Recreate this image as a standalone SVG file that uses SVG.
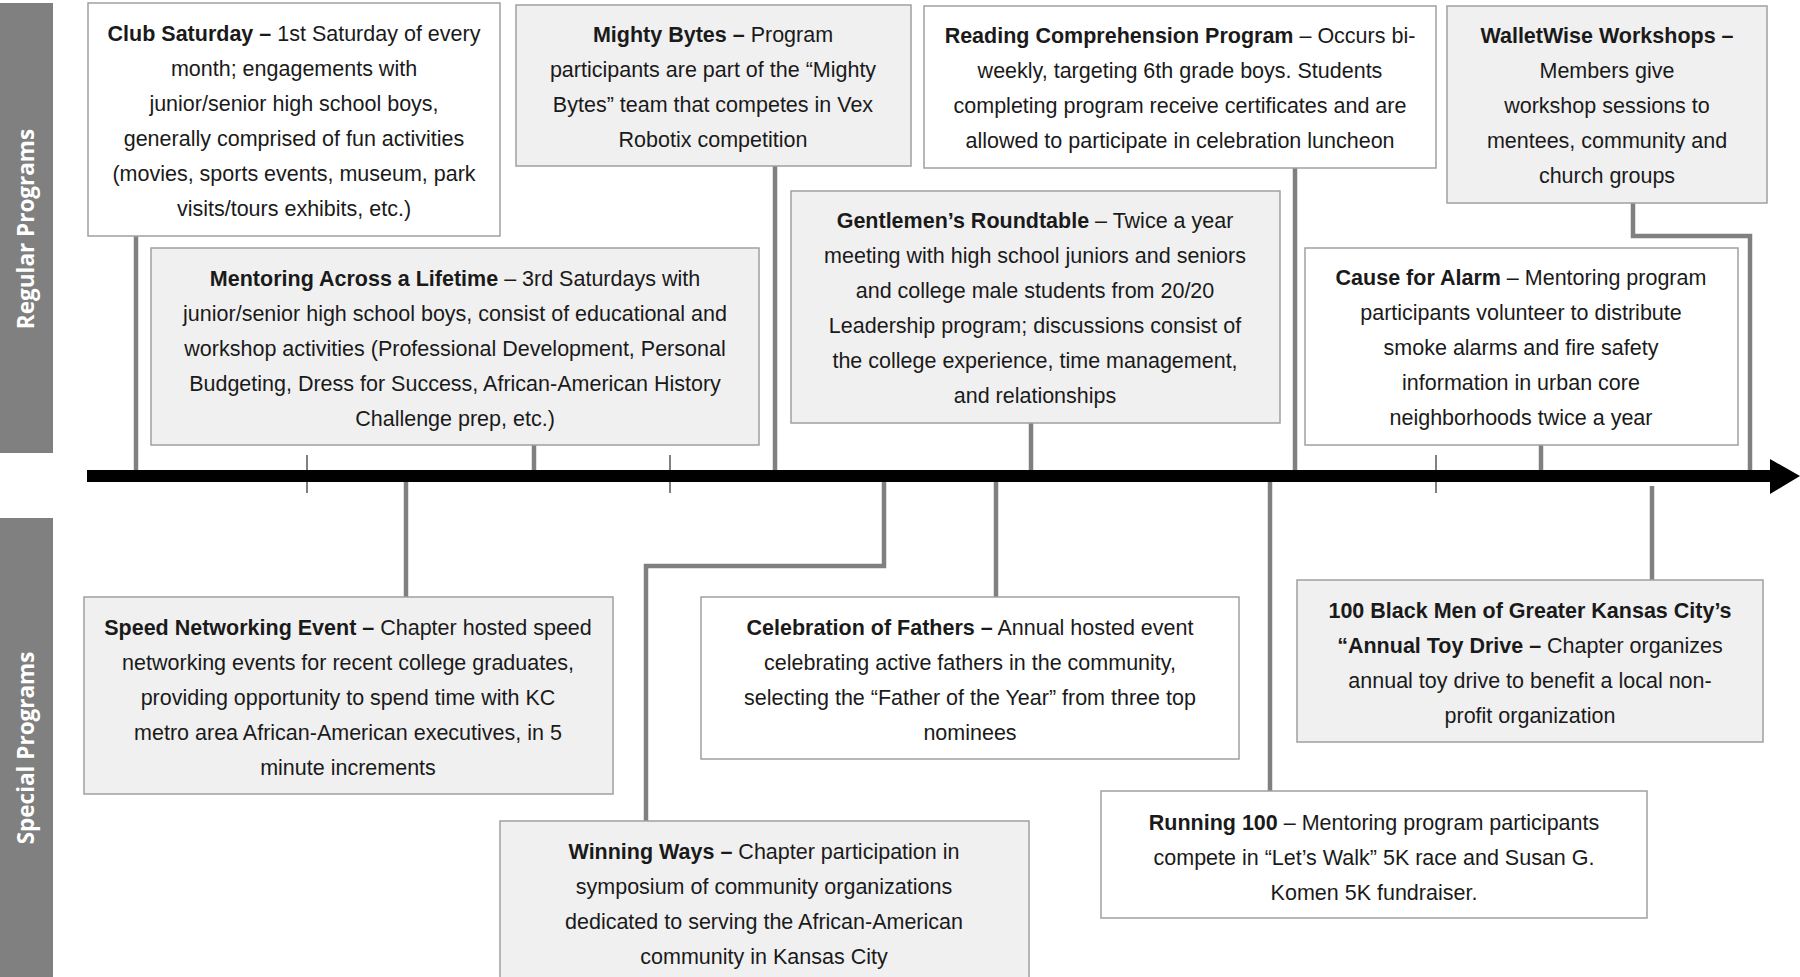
<svg xmlns="http://www.w3.org/2000/svg" width="1800" height="977" viewBox="0 0 1800 977">
<style>
.bw{fill:#ffffff;stroke:#a0a0a0;stroke-width:1.5}
.bg{fill:#f0f0f0;stroke:#a0a0a0;stroke-width:1.5}
.t{font-family:"Liberation Sans",Arial,sans-serif;font-size:21.5px;fill:#1a1a1a;text-anchor:middle}
.b{font-weight:bold}
.side{fill:#808080}
.sl{font-family:"Open Sans","Liberation Sans",sans-serif;font-size:22.5px;font-weight:bold;fill:#ffffff;text-anchor:middle}
.conn{stroke:#808080;stroke-width:4.5;fill:none}
.tick{stroke:#808080;stroke-width:2}
</style>
<rect width="1800" height="977" fill="#ffffff"/>
<g id="sidebar-regular">
<rect class="side" x="0" y="3" width="53" height="450"/>
<text class="sl" transform="translate(34,229) rotate(-90)">Regular Programs</text>
</g>
<g id="sidebar-special">
<rect class="side" x="0" y="518" width="53" height="459"/>
<text class="sl" transform="translate(34,748) rotate(-90)">Special Programs</text>
</g>
<g id="connectors">
<line class="conn" x1="136" y1="236" x2="136" y2="472"/>
<line class="conn" x1="534" y1="445" x2="534" y2="472"/>
<line class="conn" x1="775" y1="166" x2="775" y2="472"/>
<line class="conn" x1="1031" y1="423" x2="1031" y2="472"/>
<line class="conn" x1="1295" y1="168" x2="1295" y2="472"/>
<line class="conn" x1="1541" y1="445" x2="1541" y2="472"/>
<polyline class="conn" points="1633,203 1633,236 1750,236 1750,472"/>
<line class="conn" x1="406" y1="480" x2="406" y2="597"/>
<polyline class="conn" points="884,480 884,566 646,566 646,821"/>
<line class="conn" x1="996" y1="480" x2="996" y2="597"/>
<line class="conn" x1="1270" y1="480" x2="1270" y2="791"/>
<line class="conn" x1="1652" y1="486" x2="1652" y2="580"/>
<line class="tick" x1="307" y1="455" x2="307" y2="493"/>
<line class="tick" x1="670" y1="455" x2="670" y2="493"/>
<line class="tick" x1="1436" y1="455" x2="1436" y2="493"/>
</g>
<g id="timeline">
<rect x="87" y="470" width="1685" height="12" fill="#000000"/>
<polygon points="1770,459 1800,476 1770,494" fill="#000000"/>
</g>
<g id="club-saturday">
<rect class="bw" x="88" y="3" width="412" height="233"/>
<text class="t" x="294" y="41"><tspan class="b">Club Saturday –</tspan> 1st Saturday of every</text>
<text class="t" x="294" y="76">month; engagements with</text>
<text class="t" x="294" y="111">junior/senior high school boys,</text>
<text class="t" x="294" y="146">generally comprised of fun activities</text>
<text class="t" x="294" y="181">(movies, sports events, museum, park</text>
<text class="t" x="294" y="216">visits/tours exhibits, etc.)</text>
</g>
<g id="mentoring">
<rect class="bg" x="151" y="248" width="608" height="197"/>
<text class="t" x="455" y="286"><tspan class="b">Mentoring Across a Lifetime</tspan> – 3rd Saturdays with</text>
<text class="t" x="455" y="321">junior/senior high school boys, consist of educational and</text>
<text class="t" x="455" y="356">workshop activities (Professional Development, Personal</text>
<text class="t" x="455" y="391">Budgeting, Dress for Success, African-American History</text>
<text class="t" x="455" y="426">Challenge prep, etc.)</text>
</g>
<g id="mighty-bytes">
<rect class="bg" x="516" y="5" width="395" height="161"/>
<text class="t" x="713" y="42"><tspan class="b">Mighty Bytes –</tspan> Program</text>
<text class="t" x="713" y="77">participants are part of the “Mighty</text>
<text class="t" x="713" y="112">Bytes” team that competes in Vex</text>
<text class="t" x="713" y="147">Robotix competition</text>
</g>
<g id="reading">
<rect class="bw" x="924" y="6" width="512" height="162"/>
<text class="t" x="1180" y="43"><tspan class="b">Reading Comprehension Program</tspan> – Occurs bi-</text>
<text class="t" x="1180" y="78">weekly, targeting 6th grade boys. Students</text>
<text class="t" x="1180" y="113">completing program receive certificates and are</text>
<text class="t" x="1180" y="148">allowed to participate in celebration luncheon</text>
</g>
<g id="walletwise">
<rect class="bg" x="1447" y="6" width="320" height="197"/>
<text class="t b" x="1607" y="43">WalletWise Workshops –</text>
<text class="t" x="1607" y="78">Members give</text>
<text class="t" x="1607" y="113">workshop sessions to</text>
<text class="t" x="1607" y="148">mentees, community and</text>
<text class="t" x="1607" y="183">church groups</text>
</g>
<g id="gentlemen">
<rect class="bg" x="791" y="191" width="489" height="232"/>
<text class="t" x="1035" y="228"><tspan class="b">Gentlemen’s Roundtable</tspan> – Twice a year</text>
<text class="t" x="1035" y="263">meeting with high school juniors and seniors</text>
<text class="t" x="1035" y="298">and college male students from 20/20</text>
<text class="t" x="1035" y="333">Leadership program; discussions consist of</text>
<text class="t" x="1035" y="368">the college experience, time management,</text>
<text class="t" x="1035" y="403">and relationships</text>
</g>
<g id="cause-for-alarm">
<rect class="bw" x="1305" y="248" width="433" height="197"/>
<text class="t" x="1521" y="285"><tspan class="b">Cause for Alarm</tspan> – Mentoring program</text>
<text class="t" x="1521" y="320">participants volunteer to distribute</text>
<text class="t" x="1521" y="355">smoke alarms and fire safety</text>
<text class="t" x="1521" y="390">information in urban core</text>
<text class="t" x="1521" y="425">neighborhoods twice a year</text>
</g>
<g id="speed-networking">
<rect class="bg" x="84" y="597" width="529" height="197"/>
<text class="t" x="348" y="635"><tspan class="b">Speed Networking Event –</tspan> Chapter hosted speed</text>
<text class="t" x="348" y="670">networking events for recent college graduates,</text>
<text class="t" x="348" y="705">providing opportunity to spend time with KC</text>
<text class="t" x="348" y="740">metro area African-American executives, in 5</text>
<text class="t" x="348" y="775">minute increments</text>
</g>
<g id="celebration-of-fathers">
<rect class="bw" x="701" y="597" width="538" height="162"/>
<text class="t" x="970" y="635"><tspan class="b">Celebration of Fathers –</tspan> Annual hosted event</text>
<text class="t" x="970" y="670">celebrating active fathers in the community,</text>
<text class="t" x="970" y="705">selecting the “Father of the Year” from three top</text>
<text class="t" x="970" y="740">nominees</text>
</g>
<g id="winning-ways">
<rect class="bg" x="500" y="821" width="529" height="170"/>
<text class="t" x="764" y="859"><tspan class="b">Winning Ways –</tspan> Chapter participation in</text>
<text class="t" x="764" y="894">symposium of community organizations</text>
<text class="t" x="764" y="929">dedicated to serving the African-American</text>
<text class="t" x="764" y="964">community in Kansas City</text>
</g>
<g id="toy-drive">
<rect class="bg" x="1297" y="580" width="466" height="162"/>
<text class="t b" x="1530" y="618">100 Black Men of Greater Kansas City’s</text>
<text class="t" x="1530" y="653"><tspan class="b">“Annual Toy Drive –</tspan> Chapter organizes</text>
<text class="t" x="1530" y="688">annual toy drive to benefit a local non-</text>
<text class="t" x="1530" y="723">profit organization</text>
</g>
<g id="running-100">
<rect class="bw" x="1101" y="791" width="546" height="127"/>
<text class="t" x="1374" y="830"><tspan class="b">Running 100</tspan> – Mentoring program participants</text>
<text class="t" x="1374" y="865">compete in “Let’s Walk” 5K race and Susan G.</text>
<text class="t" x="1374" y="900">Komen 5K fundraiser.</text>
</g>
</svg>
